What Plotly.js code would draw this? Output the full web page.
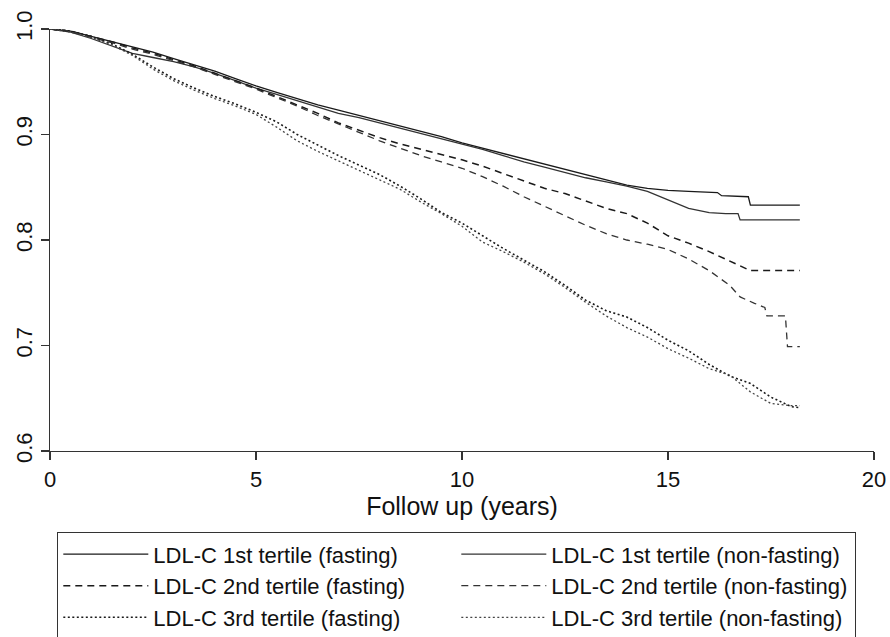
<!DOCTYPE html>
<html>
<head>
<meta charset="utf-8">
<script src="https://cdn.plot.ly/plotly-3.0.1.min.js"></script>
<style>
  html, body { margin: 0; padding: 0; background: #fff; }
  #chart { width: 890px; height: 637px; }
</style>
</head>
<body>
<div id="chart"></div>
<script>
// Kaplan-Meier survival by LDL-C tertile, fasting vs non-fasting samples
const seriesNames = [
  'LDL-C 1st tertile (fasting)',
  'LDL-C 1st tertile (non-fasting)',
  'LDL-C 2nd tertile (fasting)',
  'LDL-C 2nd tertile (non-fasting)',
  'LDL-C 3rd tertile (fasting)',
  'LDL-C 3rd tertile (non-fasting)'
];

// 1st tertile, fasting
const t1fX = [0, 0.5, 1, 1.5, 2, 2.5, 3, 3.5, 4, 4.5, 5, 5.5, 6, 6.5, 7, 7.5, 8, 8.5, 9, 9.5, 10,
  10.5, 11, 11.5, 12, 12.5, 13, 13.5, 14, 14.5, 15, 15.5, 16.2, 16.3, 16.95, 17.0, 18.2];
const t1fY = [1.0, 0.998, 0.993, 0.988, 0.983, 0.978, 0.972, 0.966, 0.960, 0.953, 0.946, 0.940,
  0.934, 0.928, 0.923, 0.918, 0.913, 0.908, 0.903, 0.898, 0.892, 0.887, 0.882, 0.877, 0.872,
  0.867, 0.862, 0.857, 0.852, 0.849, 0.847, 0.846, 0.845, 0.842, 0.841, 0.833, 0.833];

// 1st tertile, non-fasting
const t1nX = [0, 0.5, 1, 1.5, 2, 2.5, 3, 3.5, 4, 4.5, 5, 5.5, 6, 6.5, 7, 7.5, 8, 8.5, 9, 9.5, 10,
  10.5, 11, 11.5, 12, 12.5, 13, 13.5, 14, 14.5, 15, 15.5, 16, 16.4, 16.7, 16.75, 18.2];
const t1nY = [1.0, 0.997, 0.991, 0.984, 0.977, 0.973, 0.969, 0.964, 0.958, 0.951, 0.944, 0.938,
  0.932, 0.926, 0.920, 0.916, 0.911, 0.906, 0.901, 0.896, 0.891, 0.886, 0.880, 0.874, 0.869,
  0.864, 0.859, 0.855, 0.851, 0.846, 0.838, 0.830, 0.826, 0.825, 0.825, 0.819, 0.819];

// 2nd tertile, fasting
const t2fX = [0, 0.5, 1, 1.5, 2, 2.5, 3, 3.5, 4, 4.5, 5, 5.5, 6, 6.5, 7, 7.5, 8, 8.5, 9, 9.5, 10,
  10.5, 11, 11.5, 12, 12.5, 13, 13.5, 14, 14.5, 15, 15.5, 16, 16.5, 17.0, 18.2];
const t2fY = [1.0, 0.998, 0.993, 0.988, 0.982, 0.977, 0.971, 0.965, 0.958, 0.951, 0.944, 0.936,
  0.928, 0.920, 0.911, 0.904, 0.897, 0.891, 0.886, 0.881, 0.876, 0.870, 0.863, 0.856, 0.849,
  0.844, 0.837, 0.830, 0.825, 0.816, 0.804, 0.797, 0.789, 0.780, 0.771, 0.771];

// 2nd tertile, non-fasting
const t2nX = [0, 0.5, 1, 1.5, 2, 2.5, 3, 3.5, 4, 4.5, 5, 5.5, 6, 6.5, 7, 7.5, 8, 8.5, 9, 9.5, 10,
  10.5, 11, 11.5, 12, 12.5, 13, 13.5, 14, 14.5, 15, 15.5, 16, 16.5, 16.75, 17.1, 17.35, 17.4,
  17.85, 17.9, 18.2];
const t2nY = [1.0, 0.998, 0.992, 0.987, 0.981, 0.976, 0.970, 0.964, 0.957, 0.950, 0.943, 0.935,
  0.927, 0.918, 0.910, 0.902, 0.894, 0.887, 0.880, 0.874, 0.868, 0.860, 0.851, 0.841, 0.832,
  0.823, 0.814, 0.806, 0.800, 0.796, 0.791, 0.782, 0.771, 0.757, 0.746, 0.740, 0.736, 0.728,
  0.728, 0.699, 0.699];

// 3rd tertile, fasting
const t3fX = [0, 0.5, 1, 1.5, 2, 2.5, 3, 3.5, 4, 4.5, 5, 5.5, 6, 6.5, 7, 7.5, 8, 8.5, 9, 9.5, 10,
  10.5, 11, 11.5, 12, 12.5, 13, 13.5, 14, 14.5, 15, 15.5, 16, 16.5, 17, 17.5, 18, 18.2];
const t3fY = [1.0, 0.998, 0.993, 0.986, 0.976, 0.964, 0.953, 0.944, 0.936, 0.929, 0.921, 0.912,
  0.900, 0.890, 0.880, 0.871, 0.862, 0.851, 0.839, 0.826, 0.816, 0.804, 0.792, 0.781, 0.770,
  0.757, 0.743, 0.733, 0.727, 0.717, 0.705, 0.695, 0.682, 0.671, 0.664, 0.651, 0.642, 0.641];

// 3rd tertile, non-fasting
const t3nX = [0, 0.5, 1, 1.5, 2, 2.5, 3, 3.5, 4, 4.5, 5, 5.5, 6, 6.5, 7, 7.5, 8, 8.5, 9, 9.5, 10,
  10.5, 11, 11.5, 12, 12.5, 13, 13.5, 14, 14.5, 15, 15.5, 16, 16.5, 17, 17.5, 18, 18.2];
const t3nY = [1.0, 0.997, 0.992, 0.985, 0.975, 0.962, 0.951, 0.942, 0.934, 0.927, 0.919, 0.907,
  0.894, 0.884, 0.875, 0.866, 0.857, 0.848, 0.836, 0.825, 0.813, 0.798, 0.789, 0.779, 0.768,
  0.755, 0.741, 0.728, 0.717, 0.708, 0.697, 0.688, 0.678, 0.672, 0.656, 0.645, 0.643, 0.643];

const xTicks = [0, 5, 10, 15, 20];
const yTicks = [0.6, 0.7, 0.8, 0.9, 1.0];

const ink = '#1a1a1a';
const solid = 'solid', dashed = '7px,5px', dotted = '2px,2.5px';

function curve(name, x, y, dash, width, color) {
  return {
    type: 'scatter', mode: 'lines', name: name, x: x, y: y,
    line: { color: color, width: width, dash: dash, shape: 'linear' },
    hoverinfo: 'skip'
  };
}

// traces alternate fasting / non-fasting so the horizontal legend fills two columns
const data = [
  curve(seriesNames[0], t1fX, t1fY, solid, 1.3, ink),
  curve(seriesNames[1], t1nX, t1nY, solid, 1.3, '#333'),
  curve(seriesNames[2], t2fX, t2fY, dashed, 1.5, ink),
  curve(seriesNames[3], t2nX, t2nY, dashed, 1.3, '#333'),
  curve(seriesNames[4], t3fX, t3fY, dotted, 1.6, ink),
  curve(seriesNames[5], t3nX, t3nY, dotted, 1.3, '#444')
];

const fontFam = '"Liberation Sans", Arial, Helvetica, sans-serif';

const layout = {
  width: 890, height: 637,
  paper_bgcolor: '#fff', plot_bgcolor: '#fff',
  margin: { l: 50, r: 16, t: 29, b: 186, autoexpand: false },
  font: { family: fontFam, color: '#111', size: 22 },
  showlegend: true,
  xaxis: {
    range: [0, 20], tickvals: xTicks, ticktext: xTicks.map(String),
    showgrid: false, zeroline: false,
    showline: true, linecolor: '#333', linewidth: 1.3,
    ticks: 'outside', ticklen: 8, tickwidth: 1.3, tickcolor: '#333',
    tickfont: { size: 22, family: fontFam, color: '#111' },
    title: { text: 'Follow up (years)', font: { size: 25, family: fontFam, color: '#111' }, standoff: 2 },
    fixedrange: true
  },
  yaxis: {
    range: [0.6, 1.0], tickvals: yTicks, ticktext: yTicks.map(v => v.toFixed(1)),
    showgrid: false, zeroline: false,
    showline: true, linecolor: '#333', linewidth: 1.3,
    ticks: 'outside', ticklen: 8, tickwidth: 1.3, tickcolor: '#333',
    tickangle: -90,
    tickfont: { size: 22, family: fontFam, color: '#111' },
    fixedrange: true
  },
  legend: {
    orientation: 'h',
    x: 0.0085, xanchor: 'left',
    y: -0.192, yanchor: 'top',
    bgcolor: '#fff', bordercolor: '#333', borderwidth: 1.3,
    font: { size: 22, family: fontFam, color: '#111' },
    entrywidth: 298, entrywidthmode: 'pixels',
    itemwidth: 85,
    traceorder: 'normal',
    tracegroupgap: 0
  }
};

Plotly.newPlot('chart', data, layout, { displayModeBar: false, staticPlot: true });
</script>
</body>
</html>
